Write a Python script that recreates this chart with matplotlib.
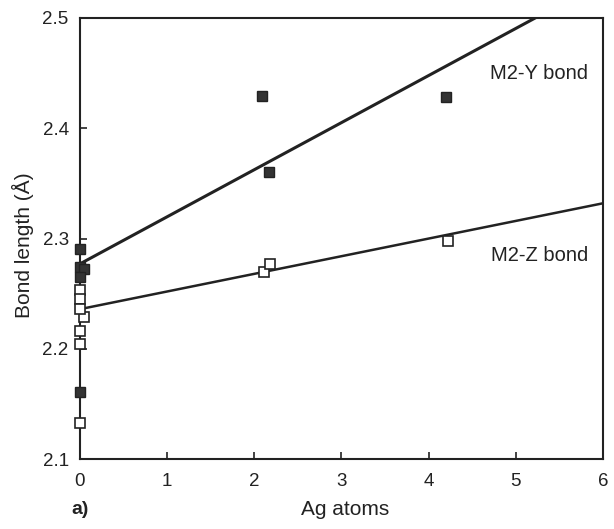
import numpy as np
import matplotlib as mpl
mpl.use('Agg')
import matplotlib.pyplot as plt

plt.rcParams['font.family'] = ['Liberation Sans', 'DejaVu Sans']

# M2-Y bond (filled squares)
y_bond_x = [0.0, 0.0, 0.05, 0.0, 0.0, 2.09, 2.17, 4.20]
y_bond_len = [2.291, 2.274, 2.272, 2.265, 2.161, 2.429, 2.360, 2.428]

# M2-Z bond (open squares)
z_bond_x = [0.0, 0.0, 0.05, 0.0, 0.0, 0.0, 0.0, 2.11, 2.18, 4.22]
z_bond_len = [2.253, 2.245, 2.229, 2.236, 2.216, 2.204, 2.133, 2.270, 2.277, 2.298]

# fitted lines: intercept, slope
y_fit = [2.277, 0.0427]
z_fit = [2.236, 0.0160]

fig = plt.figure(figsize=(6.14, 5.29), dpi=100)
ax = fig.add_axes([0.130, 0.132, 0.852, 0.834])

xs = np.array([0.0, 6.0])
ax.plot(xs, y_fit[0] + y_fit[1] * xs, color='#222222', lw=2.2, zorder=2)
ax.plot(xs, z_fit[0] + z_fit[1] * xs, color='#222222', lw=1.8, zorder=2)

ax.plot(y_bond_x, y_bond_len, 's', ms=7, color='#333333', mec='#222222',
        clip_on=False, zorder=3)
ax.plot(z_bond_x, z_bond_len, 's', ms=7, mfc='white', mec='#222222', mew=1.2,
        clip_on=False, zorder=3)

ax.set_xlim(0, 6)
ax.set_ylim(2.1, 2.5)
ax.set_xticks([0, 1, 2, 3, 4, 5, 6])
ax.set_yticks([2.1, 2.2, 2.3, 2.4, 2.5])
ax.set_xticklabels(['0', '1', '2', '3', '4', '5', '6'])
ax.set_yticklabels(['2.1', '2.2', '2.3', '2.4', '2.5'])
ax.tick_params(axis='x', pad=10)
ax.tick_params(axis='y', pad=8)
ax.tick_params(direction='in', length=5, width=1.2, labelsize=13.5,
               colors='#222222')
for s in ax.spines.values():
    s.set_linewidth(1.5)
    s.set_color('#222222')

ax.text(4.7, 2.45, 'M2-Y bond', fontsize=14.5, va='center', color='#222222')
ax.text(4.72, 2.285, 'M2-Z bond', fontsize=14.5, va='center', color='#222222')

fig.text(0.037, 0.537, 'Bond length (Å)', fontsize=15, rotation=90,
         ha='center', va='center', color='#222222')
fig.text(0.562, 0.036, 'Ag atoms', fontsize=15, ha='center', va='center', color='#222222')
fig.text(0.117, 0.036, 'a)', fontsize=14, ha='left', va='center',
         fontweight='bold', color='#222222')

plt.savefig('out.png', dpi=100)
